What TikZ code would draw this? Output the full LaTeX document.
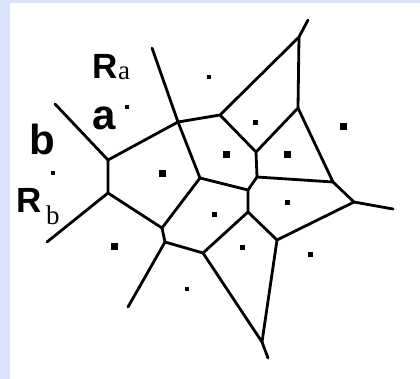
\documentclass[tikz,border=0pt]{standalone}
\usepackage{fontspec}
\setmainfont{Liberation Sans}
\newfontfamily\subfont{Liberation Serif}
\definecolor{framebg}{RGB}{218,227,250}

\begin{document}
\begin{tikzpicture}[x=1pt,y=-1pt,line cap=round,line join=round,
  edge/.style={line width=2.8pt},
  site/.style={fill=black,inner sep=0pt,minimum width=#1,minimum height=#1},
  lab/.style={anchor=base west,inner sep=0pt,font=\bfseries\fontsize{42}{42}\selectfont},
  big/.style={anchor=base west,inner sep=0pt,font=\bfseries\fontsize{35}{35}\selectfont},
  sub/.style={anchor=base west,inner sep=0pt,font=\subfont\fontsize{27}{27}\selectfont}]
\useasboundingbox (0,0) rectangle (420,379);
\fill[framebg] (0,0) rectangle (420,379);
\fill[white] (10,3) rectangle (420,379);
% vertices of the cells
\coordinate (ta) at (152,48);
\coordinate (tb) at (308,20);
\coordinate (la) at (55,104);
\coordinate (lb) at (47,242);
\coordinate (lc) at (128,307);
\coordinate (ra) at (393,209);
\coordinate (bt) at (268,358);
\coordinate (A) at (178,122);
\coordinate (B) at (108,160);
\coordinate (B2) at (108,193);
\coordinate (C) at (162,228);
\coordinate (C2) at (165,242);
\coordinate (D) at (200,178);
\coordinate (E) at (220,115);
\coordinate (F) at (299,37);
\coordinate (G) at (298,108);
\coordinate (H) at (256,152);
\coordinate (K) at (257,177);
\coordinate (K2) at (248,190);
\coordinate (L) at (248,212);
\coordinate (M) at (203,253);
\coordinate (J) at (277,240);
\coordinate (N) at (262,342);
\coordinate (P) at (333,182);
\coordinate (I) at (354,202);
% edges
\draw[edge] (ta) -- (A) -- (E) -- (F) -- (tb);
\draw[edge] (la) -- (B) -- (A);
\draw[edge] (B) -- (B2) -- (lb);
\draw[edge] (B2) -- (C) -- (D) -- (A);
\draw[edge] (C) -- (C2) -- (lc);
\draw[edge] (C2) -- (M) -- (N) -- (bt);
\draw[edge] (D) -- (K2) -- (K) -- (H) -- (E);
\draw[edge] (H) -- (G) -- (F);
\draw[edge] (K2) -- (L) -- (M);
\draw[edge] (L) -- (J) -- (N);
\draw[edge] (G) -- (P) -- (I) -- (ra);
\draw[edge] (K) -- (P);
\draw[edge] (I) -- (J);
% sites
\foreach \x/\y/\s [count=\i] in {162/174/7,343/127/7,226/155/7,287/155/7,114/247/7,
    127/107/4.5,209/77/4,53/173/4,255/123/5,187/289/4.5,287/203/5,214/215/5,242/248/5,310/255/5}
  \node[site=\s] (s\i) at (\x,\y) {};
% labels
\node[big] (Ra) at (92,79) {R};
\node[sub] (ai) at (118,80) {a};
\node[lab] (a) at (92,130) {a};
\node[lab] (b) at (29,155) {b};
\node[big] (Rb) at (16,213) {R};
\node[sub] (bi) at (46,225) {b};
\end{tikzpicture}
\end{document}
